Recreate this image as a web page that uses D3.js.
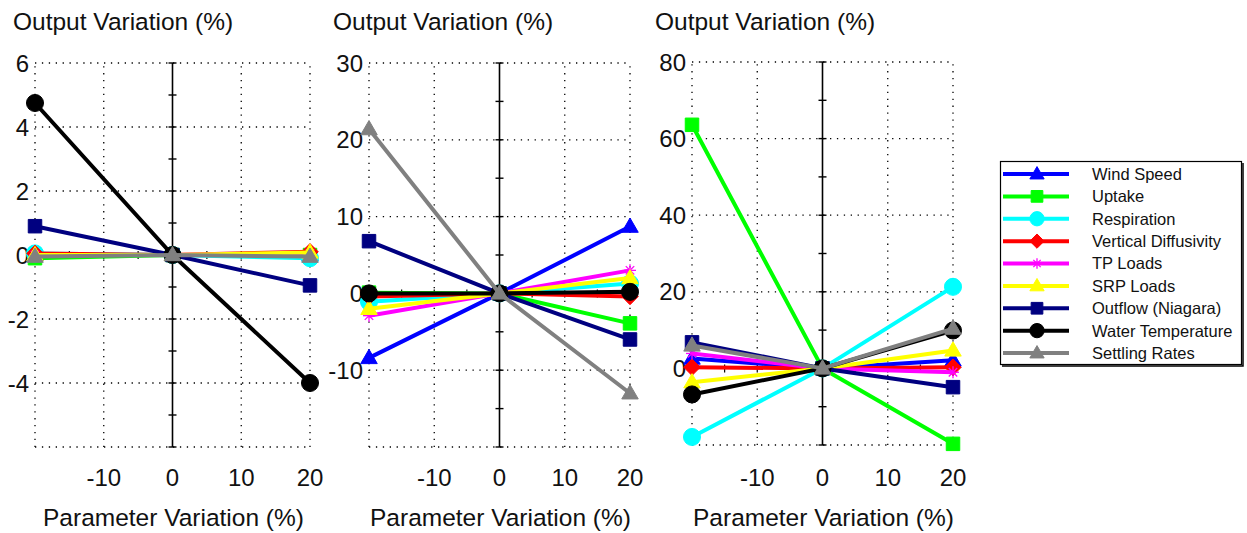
<!DOCTYPE html>
<html>
<head>
<meta charset="utf-8">
<script src="https://cdn.jsdelivr.net/npm/d3@7"></script>
<style>
  html, body { margin: 0; padding: 0; background: #fff; }
  svg { display: block; font-family: "Liberation Sans", Arial, sans-serif; }
</style>
</head>
<body>
<svg id="chart" width="1247" height="533"></svg>
<script>
// ---------------- DATA ----------------
const xValues = [-20, 0, 20];
const seriesNames = ["Wind Speed", "Uptake", "Respiration", "Vertical Diffusivity", "TP Loads",
  "SRP Loads", "Outflow (Niagara)", "Water Temperature", "Settling Rates"];
// values at x = -20, 0, 20 for each series (same order as seriesNames)
const panel1Values = [
  [0.0, 0, 0.0],
  [-0.1, 0, 0.0],
  [0.05, 0, -0.1],
  [0.05, 0, 0.1],
  [0.0, 0, 0.05],
  [0.0, 0, 0.08],
  [0.9, 0, -0.95],
  [4.75, 0, -4.0],
  [-0.05, 0, -0.05]
];
const panel2Values = [
  [-8.4, 0, 8.7],
  [0.1, 0, -3.9],
  [-1.1, 0, 1.3],
  [-0.4, 0, -0.4],
  [-2.9, 0, 3.0],
  [-2.0, 0, 2.0],
  [6.8, 0, -6.0],
  [0.0, 0, 0.2],
  [21.4, 0, -13.0]
];
const panel3Values = [
  [2.6, 0, 2.1],
  [63.6, 0, -19.7],
  [-17.9, 0, 21.3],
  [0.3, 0, 0.3],
  [3.9, 0, -1.0],
  [-3.6, 0, 4.7],
  [6.8, 0, -4.9],
  [-6.8, 0, 9.9],
  [6.0, 0, 10.4]
];
const xTickLabels = [-10, 0, 10, 20];
const xGridValues = [-20, -10, 10, 20];
const panel1YTicks = [6, 4, 2, 0, -2, -4];
const panel2YTicks = [30, 20, 10, 0, -10];
const panel3YTicks = [80, 60, 40, 20, 0];
const titleText = "Output Variation (%)";
const xLabelText = "Parameter Variation (%)";

// ---------------- STYLE / LAYOUT ----------------
const seriesColors = ["#0000ff", "#00ff00", "#00ffff", "#ff0000", "#ff00ff", "#ffff00", "#000080", "#000000", "#808080"];
const seriesMarkers = ["triangle", "square", "circle", "diamond", "star", "triangle", "square", "circle", "triangle"];

const panels = [
  { values: panel1Values, yTicks: panel1YTicks, yDomain: [-6, 6], minor: 1,
    x0: 35, x1: 310, y0: 63, y1: 447, titleX: 13 },
  { values: panel2Values, yTicks: panel2YTicks, yDomain: [-20, 30], minor: 5,
    x0: 369, x1: 630, y0: 63, y1: 447, titleX: 333 },
  { values: panel3Values, yTicks: panel3YTicks, yDomain: [-20, 80], minor: 10,
    x0: 692, x1: 953, y0: 62, y1: 445, titleX: 655 }
];

const svg = d3.select("#chart");

function markerPath(type, s) {
  const p = d3.path();
  if (type === "triangle") {
    const h = s * 0.95, w = s * 0.55;
    p.moveTo(0, -h * 0.6); p.lineTo(w, h * 0.4); p.lineTo(-w, h * 0.4); p.closePath();
  } else if (type === "square") {
    const a = s * 0.45;
    p.rect(-a, -a, 2 * a, 2 * a);
  } else if (type === "circle") {
    p.arc(0, 0, s * 0.55, 0, 2 * Math.PI);
  } else if (type === "diamond") {
    const a = s * 0.55;
    p.moveTo(0, -a); p.lineTo(a, 0); p.lineTo(0, a); p.lineTo(-a, 0); p.closePath();
  }
  return p.toString();
}

function drawMarker(g, type, color, cx, cy, s) {
  if (type === "star") {
    const a = s * 0.4;
    const star = g.append("g").attr("transform", `translate(${cx},${cy})`)
      .attr("stroke", color).attr("stroke-width", 1.3).attr("fill", "none");
    [[-a, 0, a, 0], [0, -a, 0, a], [-a * 0.7, -a * 0.7, a * 0.7, a * 0.7], [-a * 0.7, a * 0.7, a * 0.7, -a * 0.7]]
      .forEach(l => star.append("line").attr("x1", l[0]).attr("y1", l[1]).attr("x2", l[2]).attr("y2", l[3]));
  } else {
    g.append("path").attr("d", markerPath(type, s))
      .attr("transform", `translate(${cx},${cy})`)
      .attr("fill", color).attr("stroke", color).attr("stroke-width", 1);
  }
}

panels.forEach(pn => {
  const x = d3.scaleLinear().domain([-20, 20]).range([pn.x0, pn.x1]);
  const y = d3.scaleLinear().domain(pn.yDomain).range([pn.y1, pn.y0]);
  const g = svg.append("g");

  // dotted grid
  const gridVals = d3.range(pn.yDomain[0], pn.yDomain[1] + 1e-9, (pn.yTicks[0] - pn.yTicks[1]));
  g.selectAll(".hg").data(gridVals).join("line")
    .attr("x1", x(-20)).attr("x2", x(20)).attr("y1", d => y(d)).attr("y2", d => y(d))
    .attr("stroke", "#000").attr("stroke-width", 1.3).attr("stroke-dasharray", "1.3,5.6");
  g.selectAll(".vg").data(xGridValues).join("line")
    .attr("x1", d => x(d)).attr("x2", d => x(d)).attr("y1", y(pn.yDomain[0])).attr("y2", y(pn.yDomain[1]))
    .attr("stroke", "#000").attr("stroke-width", 1.3).attr("stroke-dasharray", "1.3,5.6");

  // horizontal axis at y = 0 with ticks every 5
  g.append("line").attr("x1", x(-20)).attr("x2", x(20)).attr("y1", y(0)).attr("y2", y(0))
    .attr("stroke", "#000").attr("stroke-width", 1.2);
  g.selectAll(".xt").data(d3.range(-20, 20.1, 5)).join("line")
    .attr("x1", d => x(d)).attr("x2", d => x(d)).attr("y1", y(0) - 4).attr("y2", y(0) + 4)
    .attr("stroke", "#000").attr("stroke-width", 1.2);

  // vertical axis at x = 0 with minor ticks
  g.append("line").attr("x1", x(0)).attr("x2", x(0)).attr("y1", y(pn.yDomain[0])).attr("y2", y(pn.yDomain[1]))
    .attr("stroke", "#000").attr("stroke-width", 1.6);
  g.selectAll(".yt").data(d3.range(pn.yDomain[0], pn.yDomain[1] + 1e-9, pn.minor)).join("line")
    .attr("x1", x(0) - 4).attr("x2", x(0) + 4).attr("y1", d => y(d)).attr("y2", d => y(d))
    .attr("stroke", "#000").attr("stroke-width", 1.4);

  // y tick labels
  g.selectAll(".yl").data(pn.yTicks).join("text")
    .attr("x", pn.x0 - 6).attr("y", d => y(d)).attr("dy", "0.36em")
    .attr("text-anchor", "end").attr("font-size", 24).attr("fill", "#111")
    .text(d => d);
  // x tick labels
  g.selectAll(".xl").data(xTickLabels).join("text")
    .attr("x", d => x(d)).attr("y", 486)
    .attr("text-anchor", "middle").attr("font-size", 24).attr("fill", "#111")
    .text(d => d);

  // title & x label
  g.append("text").attr("x", pn.titleX).attr("y", 30).attr("font-size", 24.5).attr("fill", "#111").text(titleText);
  g.append("text").attr("x", (pn.x0 + pn.x1) / 2 + 1).attr("y", 526).attr("text-anchor", "middle")
    .attr("font-size", 24.5).attr("fill", "#111").text(xLabelText);

  // series
  const line = d3.line().x((d, i) => x(xValues[i])).y(d => y(d));
  pn.values.forEach((vals, si) => {
    const sg = g.append("g");
    sg.append("path").attr("d", line(vals)).attr("fill", "none")
      .attr("stroke", seriesColors[si]).attr("stroke-width", 4).attr("stroke-linejoin", "round");
    vals.forEach((v, i) => drawMarker(sg, seriesMarkers[si], seriesColors[si], x(xValues[i]), y(v),
      seriesMarkers[si] === "circle" ? 15.5 : 15));
  });
});

// ---------------- LEGEND ----------------
const leg = svg.append("g");
leg.append("rect").attr("x", 1000.5).attr("y", 161.5).attr("width", 241).attr("height", 203)
  .attr("fill", "#fff").attr("stroke", "#000").attr("stroke-width", 1.2);
leg.append("path").attr("d", "M1243,163V366H1002").attr("fill", "none").attr("stroke", "#000").attr("stroke-width", 1.5);
const legY = d3.scaleLinear().domain([0, 8]).range([174, 353]);
seriesNames.forEach((name, i) => {
  const yy = legY(i);
  leg.append("line").attr("x1", 1003).attr("x2", 1069).attr("y1", yy).attr("y2", yy)
    .attr("stroke", seriesColors[i]).attr("stroke-width", 4);
  drawMarker(leg, seriesMarkers[i], seriesColors[i], 1037, yy, 13);
  leg.append("text").attr("x", 1092).attr("y", yy).attr("dy", "0.36em")
    .attr("font-size", 16.5).attr("fill", "#111").text(name);
});
</script>
</body>
</html>
